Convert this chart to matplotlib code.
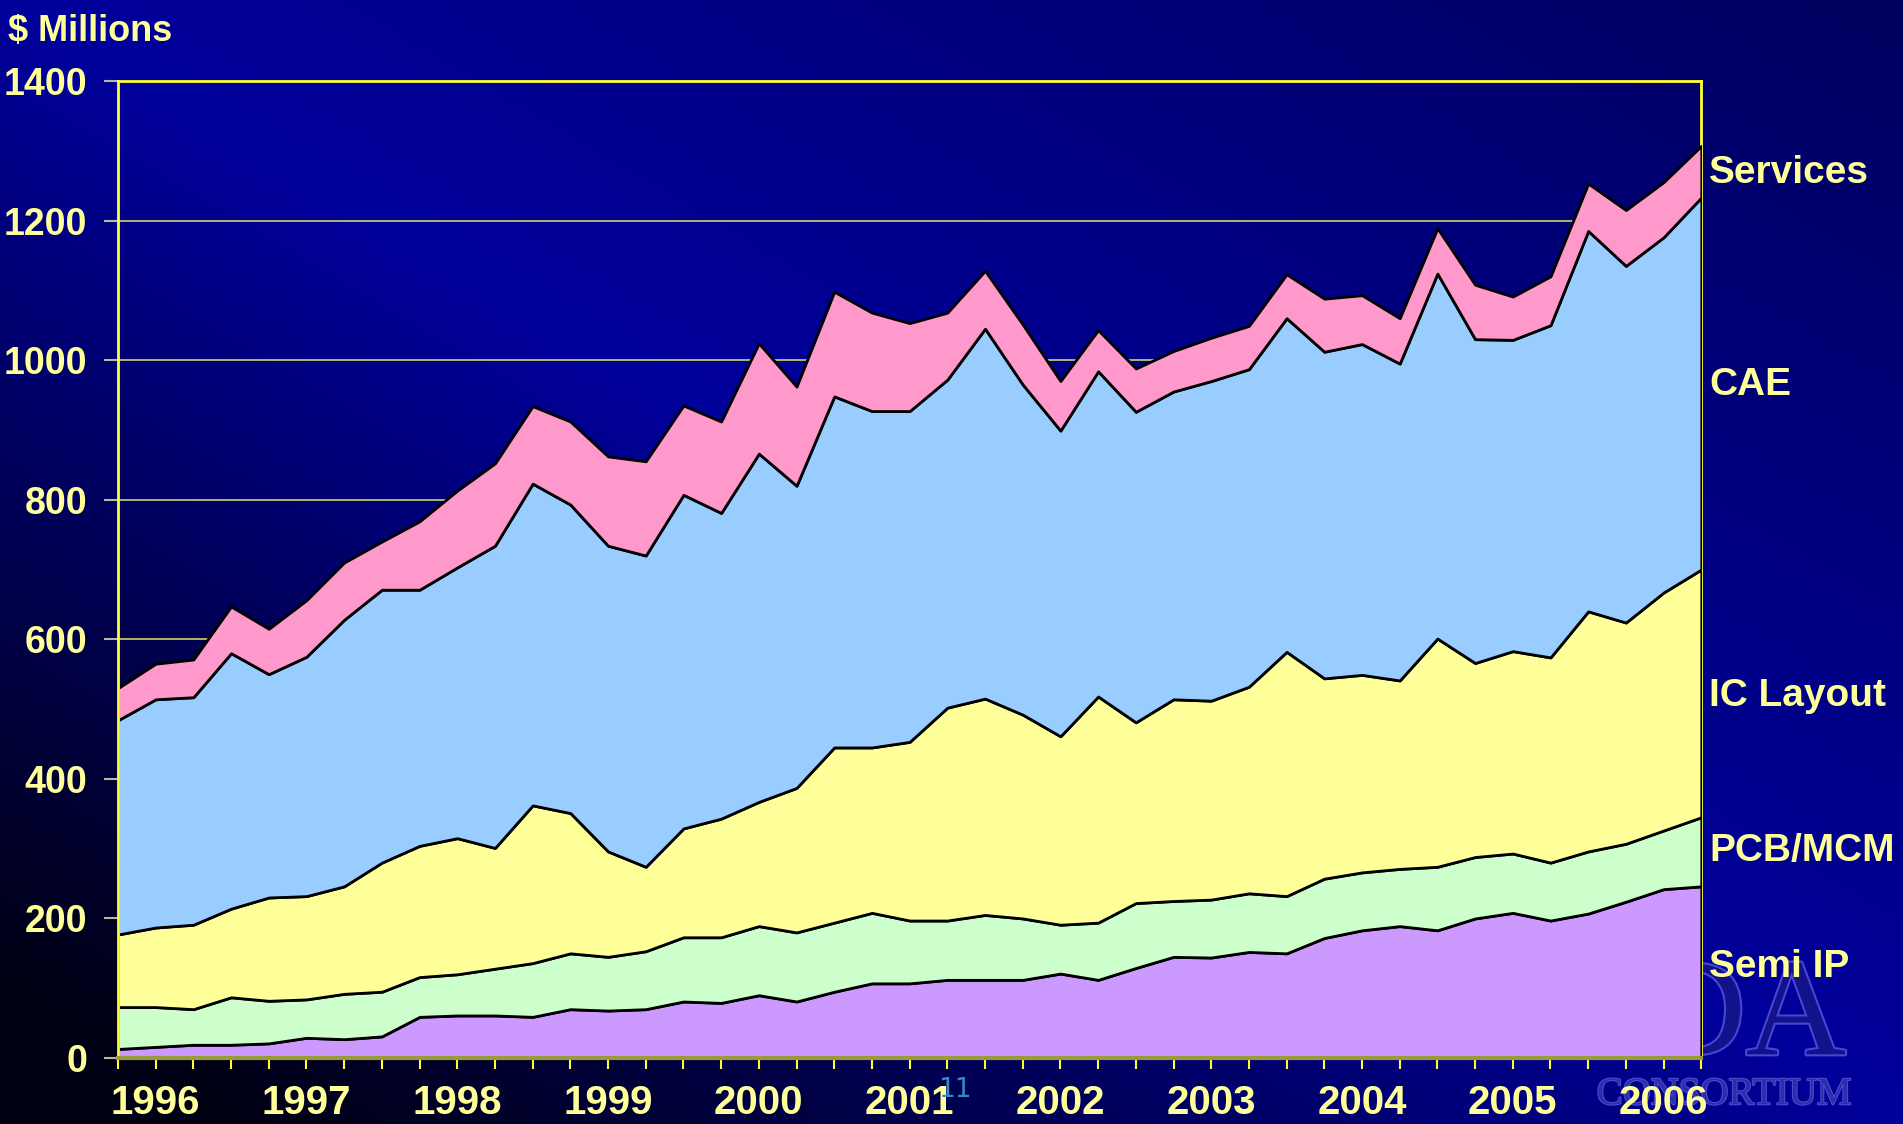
import numpy as np
import matplotlib
matplotlib.use("Agg")
import matplotlib.pyplot as plt
import matplotlib.transforms as mtransforms
import matplotlib.patheffects as pe

# ==============================
# DATA  ($ millions per quarter, 1996 Q1 .. 2006 Q3)
# ==============================

quarters = [f"{y} Q{q}" for y in range(1996, 2007) for q in range(1, 5)][:43]
years = ["1996", "1997", "1998", "1999", "2000", "2001",
         "2002", "2003", "2004", "2005", "2006"]

semi_ip = [13, 16, 19, 19, 21, 29, 27, 31, 59, 61, 61, 59, 70, 68, 70,
           81, 79, 90, 81, 95, 107, 107, 112, 112, 112, 121, 112, 129, 145,
           144, 152, 150, 172, 183, 189, 183, 200, 208, 197, 207, 224, 242, 246]
pcb_mcm = [60, 57, 51, 68, 61, 55, 65, 64, 57, 59, 67, 77, 80, 77, 83,
           92, 94, 99, 99, 99, 101, 90, 85, 93, 88, 70, 82, 93, 80,
           83, 84, 82, 85, 83, 82, 91, 88, 85, 83, 89, 83, 84, 99]
ic_layout = [104, 114, 121, 127, 148, 148, 154, 185, 188, 195, 173, 226, 201, 151, 121,
             156, 170, 178, 207, 251, 237, 256, 305, 310, 292, 270, 324, 259, 289,
             285, 296, 350, 287, 283, 270, 327, 278, 290, 294, 344, 317, 341, 355]
cae = [307, 327, 326, 366, 320, 343, 382, 391, 367, 388, 433, 461, 442, 438, 446,
       478, 438, 499, 433, 503, 482, 474, 470, 530, 473, 438, 466, 445, 441,
       458, 455, 478, 468, 474, 454, 523, 464, 446, 476, 545, 511, 509, 533]
services = [46, 51, 54, 67, 65, 81, 82, 69, 98, 110, 118, 111, 119, 128, 135,
            128, 131, 158, 142, 150, 141, 126, 96, 83, 86, 71, 59, 62, 58,
            62, 62, 63, 76, 70, 65, 65, 78, 62, 70, 68, 80, 79, 74]

series_names = ["Semi IP", "PCB/MCM", "IC Layout", "CAE", "Services"]
series_colors = ["#CC99FF", "#CCFFCC", "#FFFF99", "#99CCFF", "#FF99CC"]

TEXT = "#FFFF99"
BOLD = ["Liberation Sans", "DejaVu Sans"]
NARROW = ["Liberation Sans Narrow", "Liberation Sans", "DejaVu Sans"]
SERIF = ["Liberation Serif", "DejaVu Serif"]


def background(fig):
    # diagonal navy gradient: dark bottom-left, bright along the anti-diagonal
    h, w = 200, 340
    yy, xx = np.mgrid[0:1:h * 1j, 0:1:w * 1j]
    s = xx + yy - 1
    t = np.where(s < 0, 1 + s * 1.15, 1 - s * 0.45)
    t = np.clip(t, 0, 1)
    img = np.zeros((h, w, 3))
    img[..., 2] = (0x14 + (0x9C - 0x14) * t) / 255
    bg = fig.add_axes([0, 0, 1, 1], zorder=-10)
    bg.imshow(img, origin="lower", extent=[0, 1, 0, 1], aspect="auto")
    bg.set_axis_off()


def main():
    fig = plt.figure(figsize=(19.03, 11.24), dpi=100)
    background(fig)

    # faint watermark logo behind the plot
    fig.text(0.970, 0.062, "EDA", fontsize=100, family=SERIF,
             color="#12128c", ha="right", va="baseline", zorder=-5,
             path_effects=[pe.withStroke(linewidth=3, foreground="#4646d2")])
    fig.text(0.906, 0.026, "CONSORTIUM", fontsize=28, family=SERIF,
             color="#2d2dab", ha="center", va="center", zorder=-5,
             path_effects=[pe.withStroke(linewidth=1.5, foreground="#4b4bd0")])

    ax = fig.add_axes([0.062, 0.0587, 0.832, 0.8693])
    ax.set_facecolor("none")

    x = np.arange(len(quarters))
    ax.stackplot(x, semi_ip, pcb_mcm, ic_layout, cae, services,
                 colors=series_colors, edgecolor="black", linewidth=2.0, zorder=2)

    for v in range(200, 1400, 200):
        ax.axhline(v, color="#D2D26A", lw=1.2, zorder=1)

    ax.set_xlim(0, len(quarters) - 1)
    ax.set_ylim(0, 1400)

    # spines
    for side in ["left", "top", "right"]:
        ax.spines[side].set_color("#FFFF33")
        ax.spines[side].set_linewidth(2)
    ax.spines["right"].set_zorder(1.5)
    ax.spines["bottom"].set_color("#9a9a3a")
    ax.spines["bottom"].set_linewidth(3)

    # y axis
    ax.set_yticks(range(0, 1401, 200))
    ax.tick_params(axis="y", length=10, width=1.5, color="#B8B8A0", pad=12,
                   labelcolor=TEXT, labelsize=27)
    for lab in ax.get_yticklabels():
        lab.set_family(BOLD)
        lab.set_fontweight("bold")

    # x axis: a tick per quarter, year label on the second quarter
    year_pos = [quarters.index(f"{y} Q2") for y in years]
    ax.set_xticks(year_pos, years)
    ax.set_xticks(x, minor=True)
    ax.tick_params(axis="x", which="both", length=8, width=1.5, color="#FFFF33",
                   pad=11, labelcolor=TEXT, labelsize=29)
    for lab in ax.get_xticklabels():
        lab.set_family(NARROW)
        lab.set_fontweight("bold")

    # series labels on the right
    label_y = {"Services": 1268, "CAE": 965, "IC Layout": 518,
               "PCB/MCM": 297, "Semi IP": 130}
    trans = mtransforms.blended_transform_factory(ax.transAxes, ax.transData)
    for name in series_names:
        ax.text(1.005, label_y[name], name, transform=trans, ha="left", va="center",
                fontsize=28, fontweight="bold", family=BOLD, color=TEXT,
                clip_on=False, zorder=5)

    fig.text(0.004, 0.972, "$ Millions", fontsize=26, fontweight="bold",
             family=BOLD, color=TEXT, ha="left", va="center")

    # slide number
    fig.text(0.502, 0.030, "11", fontsize=19, color="#2A8FC8", ha="center", va="center")

    fig.savefig("out.png", dpi=100)


if __name__ == "__main__":
    main()
